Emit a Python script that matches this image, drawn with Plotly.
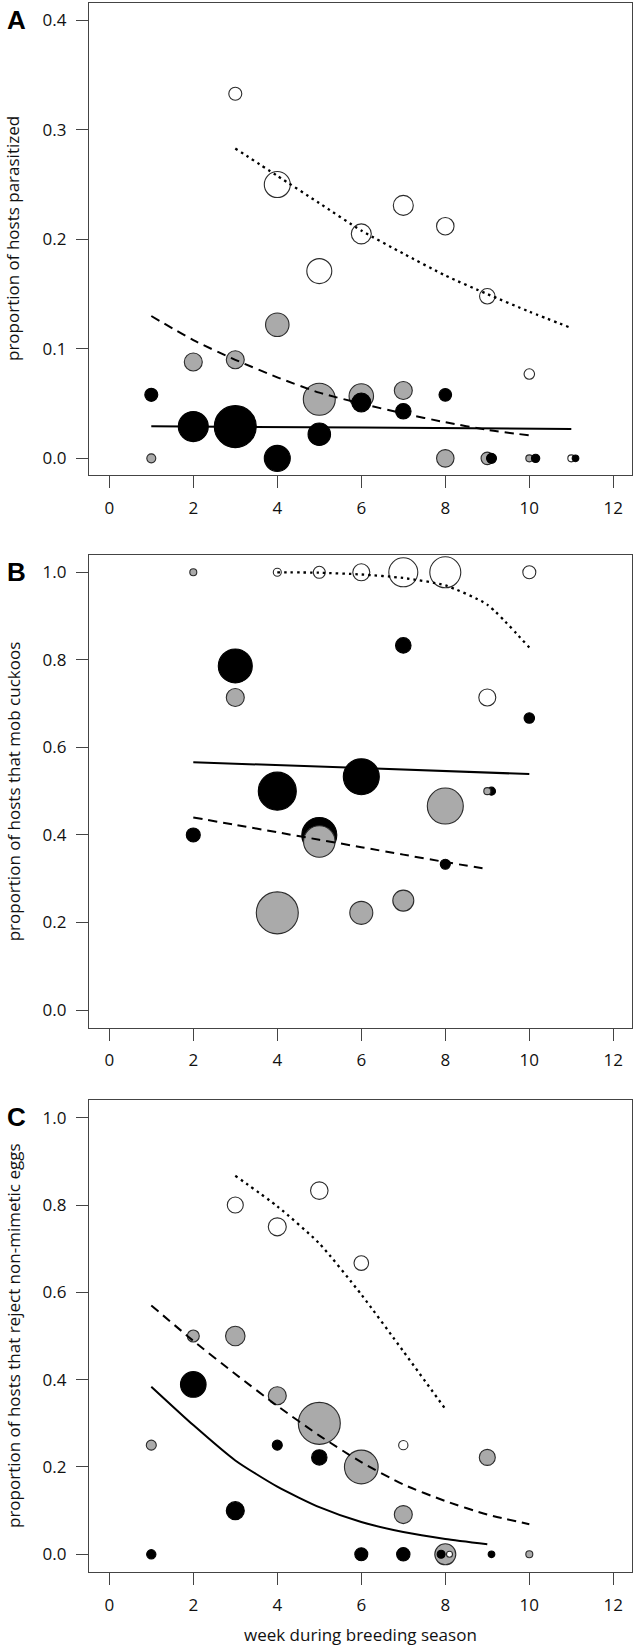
import plotly.graph_objects as go

# ---------------- data ----------------
x_ticks = [0, 2, 4, 6, 8, 10, 12]

# Panel A: proportion of hosts parasitized
A_white_x = [3, 4, 5, 6, 7, 8, 9, 10, 11]
A_white_y = [0.333, 0.25, 0.171, 0.205, 0.231, 0.212, 0.148, 0.077, 0.0]
A_white_n = [13, 26, 25, 20, 20, 17.5, 15.5, 10.5, 7]
A_grey_x = [1, 2, 3, 4, 5, 6, 7, 8, 9, 10]
A_grey_y = [0.0, 0.088, 0.090, 0.122, 0.054, 0.057, 0.062, 0.0, 0.0, 0.0]
A_grey_n = [9, 18, 18, 23.5, 32, 24.5, 18, 17.5, 12.5, 7]
A_black_x = [1, 2, 3, 4, 5, 6, 7, 8, 9.1, 10.15, 11.1]
A_black_y = [0.058, 0.029, 0.029, 0.0, 0.022, 0.051, 0.043, 0.058, 0.0, 0.0, 0.0]
A_black_n = [13, 30, 42, 26, 22.5, 19, 15.5, 12.6, 10, 8.3, 6.7]
A_solid_x = [1, 6, 11]
A_solid_y = [0.0293, 0.0281, 0.0268]
A_dash_x = [1, 2, 3, 4, 5, 6, 7, 8, 9, 10]
A_dash_y = [0.130, 0.108, 0.090, 0.074, 0.060, 0.050, 0.041, 0.033, 0.026, 0.021]
A_dot_x = [3, 4, 5, 6, 7, 8, 9, 10, 11]
A_dot_y = [0.283, 0.258, 0.233, 0.208, 0.187, 0.167, 0.150, 0.134, 0.119]

# Panel B: proportion of hosts that mob cuckoos
B_white_x = [4, 5, 6, 7, 8, 9, 10]
B_white_y = [1.0, 1.0, 1.0, 1.0, 1.0, 0.714, 1.0]
B_white_n = [8, 12, 17, 29, 31, 17, 13]
B_grey_x = [2, 3, 4, 5, 6, 7, 8, 9]
B_grey_y = [1.0, 0.714, 0.222, 0.385, 0.222, 0.25, 0.466, 0.5]
B_grey_n = [7, 18, 42, 31.5, 23, 21, 36, 7]
B_black_x = [2, 3, 4, 5, 6, 7, 8, 9.1, 10]
B_black_y = [0.4, 0.786, 0.5, 0.4, 0.533, 0.833, 0.333, 0.5, 0.667]
B_black_n = [14, 34, 38, 35, 36, 15.5, 10, 8, 10.5]
B_solid_x = [2, 6, 10]
B_solid_y = [0.566, 0.553, 0.539]
B_dash_x = [2, 3, 4, 5, 6, 7, 8, 9]
B_dash_y = [0.440, 0.423, 0.406, 0.389, 0.372, 0.355, 0.338, 0.322]
B_dot_x = [4, 5, 6, 7, 8, 9, 10]
B_dot_y = [1.0, 0.999, 0.995, 0.987, 0.970, 0.926, 0.828]

# Panel C: proportion of hosts that reject non-mimetic eggs
C_white_x = [3, 4, 5, 6, 7, 8.1]
C_white_y = [0.8, 0.75, 0.833, 0.667, 0.25, 0.0]
C_white_n = [16, 18, 17.5, 14.6, 9.3, 6]
C_grey_x = [1, 2, 3, 4, 5, 6, 7, 8, 9, 10]
C_grey_y = [0.25, 0.5, 0.5, 0.363, 0.3, 0.2, 0.091, 0.0, 0.222, 0.0]
C_grey_n = [10, 12, 19.5, 18, 42, 33.7, 18, 21, 16, 7]
C_black_x = [1, 2, 3, 4, 5, 6, 7, 7.9, 9.1]
C_black_y = [0.0, 0.389, 0.1, 0.25, 0.222, 0.0, 0.0, 0.0, 0.0]
C_black_n = [9.3, 25.6, 18, 10, 15.4, 13, 13.4, 8, 6.7]
C_solid_x = [1, 2, 3, 4, 5, 6, 7, 8, 9]
C_solid_y = [0.384, 0.296, 0.215, 0.155, 0.108, 0.074, 0.051, 0.035, 0.023]
C_dash_x = [1, 2, 3, 4, 5, 6, 7, 8, 9, 10]
C_dash_y = [0.570, 0.489, 0.413, 0.340, 0.272, 0.211, 0.160, 0.122, 0.091, 0.069]
C_dot_x = [3, 4, 5, 6, 7, 8]
C_dot_y = [0.867, 0.797, 0.712, 0.595, 0.465, 0.333]

y_titles = ["proportion of hosts parasitized",
            "proportion of hosts that mob cuckoos",
            "proportion of hosts that reject non-mimetic eggs"]
x_title = "week during breeding season"
panel_letters = ["A", "B", "C"]

# ---------------- style ----------------
W, H = 636, 1647
FONT = "Open Sans"
FILL = {"white": "#ffffff", "grey": "#aaaaaa", "black": "#000000"}
EDGE = "#2b2b2b"
AXC = "#444444"

# plot regions in pixels (left, right, top, bottom)
PX_L, PX_R = 89, 632
panels_px = [(3, 475), (555, 1027.7), (1100, 1572)]
y_ranges = [[-0.0152, 0.4158], [-0.0404, 1.0395], [-0.0405, 1.0405]]
y_tickvals = [[0, 0.1, 0.2, 0.3, 0.4], [0, 0.2, 0.4, 0.6, 0.8, 1.0], [0, 0.2, 0.4, 0.6, 0.8, 1.0]]
x_range = [-0.483, 12.445]

fig = go.Figure()


def pts(x, y, n, kind, k):
    fig.add_trace(go.Scatter(
        x=x, y=y, mode="markers",
        marker=dict(size=n, color=FILL[kind], opacity=1,
                    line=dict(width=1.1, color=EDGE if kind != "black" else "#000")),
        xaxis="x" + ("" if k == 0 else str(k + 1)),
        yaxis="y" + ("" if k == 0 else str(k + 1)),
        showlegend=False, hoverinfo="skip"))


def line(x, y, dash, k, width=2):
    fig.add_trace(go.Scatter(
        x=x, y=y, mode="lines",
        line=dict(color="#000", width=width, dash=dash, shape="spline", smoothing=0.6),
        xaxis="x" + ("" if k == 0 else str(k + 1)),
        yaxis="y" + ("" if k == 0 else str(k + 1)),
        showlegend=False, hoverinfo="skip"))


# Panel A: white, grey, black on top
pts(A_white_x, A_white_y, A_white_n, "white", 0)
pts(A_grey_x, A_grey_y, A_grey_n, "grey", 0)
pts(A_black_x, A_black_y, A_black_n, "black", 0)
line(A_solid_x, A_solid_y, "solid", 0)
line(A_dash_x, A_dash_y, "9px,6px", 0)
line(A_dot_x, A_dot_y, "2.5px,4px", 0, 2.3)

# Panel B: black, grey, white
pts(B_black_x, B_black_y, B_black_n, "black", 1)
pts(B_grey_x, B_grey_y, B_grey_n, "grey", 1)
pts(B_white_x, B_white_y, B_white_n, "white", 1)
line(B_solid_x, B_solid_y, "solid", 1)
line(B_dash_x, B_dash_y, "9px,6px", 1)
line(B_dot_x, B_dot_y, "2.5px,4px", 1, 2.3)

# Panel C: grey, black, white
pts(C_grey_x, C_grey_y, C_grey_n, "grey", 2)
pts(C_black_x, C_black_y, C_black_n, "black", 2)
pts(C_white_x, C_white_y, C_white_n, "white", 2)
line(C_solid_x, C_solid_y, "solid", 2)
line(C_dash_x, C_dash_y, "9px,6px", 2)
line(C_dot_x, C_dot_y, "2.5px,4px", 2, 2.3)

layout = dict(
    width=W, height=H, margin=dict(l=0, r=0, t=0, b=0),
    paper_bgcolor="white", plot_bgcolor="white",
    font=dict(family=FONT, size=17, color="#111"),
    showlegend=False,
)

common_axis = dict(showline=True, mirror=True, linecolor=AXC, linewidth=1.3,
                   ticks="outside", tickcolor=AXC, tickwidth=1.3, ticklen=12,
                   showgrid=False, zeroline=False,
                   tickfont=dict(family=FONT, size=17, color="#111"))

annotations = []
for k, (top, bot) in enumerate(panels_px):
    xs = "xaxis" + ("" if k == 0 else str(k + 1))
    ys = "yaxis" + ("" if k == 0 else str(k + 1))
    xa = "x" + ("" if k == 0 else str(k + 1))
    ya = "y" + ("" if k == 0 else str(k + 1))
    layout[xs] = dict(common_axis, domain=[PX_L / W, PX_R / W], range=x_range,
                      tickvals=x_ticks, anchor=ya, ticklabelstandoff=5)
    layout[ys] = dict(common_axis, domain=[1 - bot / H, 1 - top / H], range=y_ranges[k],
                      tickvals=y_tickvals[k], tickformat=".1f", anchor=xa,
                      ticklabelstandoff=6)
    # y-axis title
    annotations.append(dict(text=y_titles[k], textangle=-90, xref="paper", yref="paper",
                            x=13 / W, y=1 - (top + bot) / 2 / H, showarrow=False,
                            xanchor="center", yanchor="middle",
                            font=dict(family=FONT, size=17, color="#111")))
    # panel letter
    annotations.append(dict(text="<b>" + panel_letters[k] + "</b>", xref="paper", yref="paper",
                            x=16 / W, y=1 - (top + 17) / H, showarrow=False,
                            xanchor="center", yanchor="middle",
                            font=dict(family="Liberation Sans", size=26, color="#000")))

annotations.append(dict(text=x_title, xref="paper", yref="paper",
                        x=(PX_L + PX_R) / 2 / W, y=1 - 1634 / H, showarrow=False,
                        xanchor="center", yanchor="middle",
                        font=dict(family=FONT, size=17, color="#111")))
layout["annotations"] = annotations

fig.update_layout(**layout)
fig.write_html("out.html", config={"displayModeBar": False},
               post_script="document.body.style.margin='0';document.body.style.overflow='hidden';")
